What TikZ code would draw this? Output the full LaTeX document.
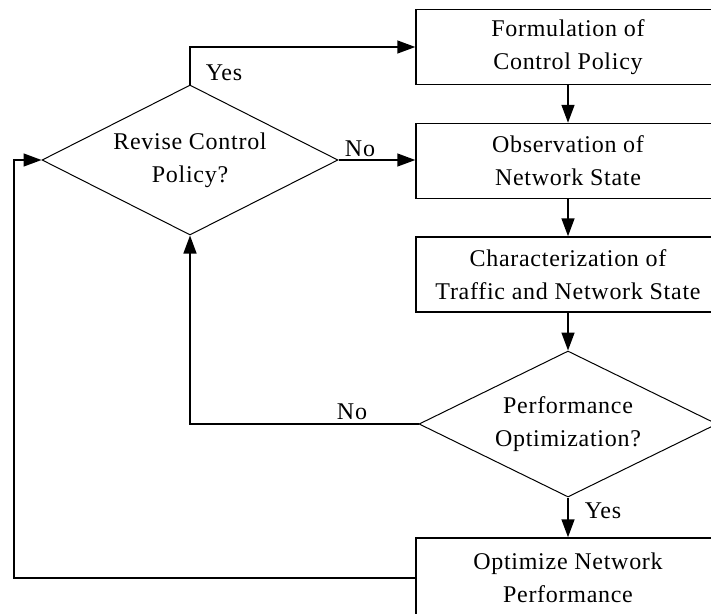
\documentclass[tikz,border=0pt]{standalone}
\usepackage{fontspec}
\setmainfont[LetterSpace=3]{Liberation Serif}
\usetikzlibrary{arrows.meta,shapes.geometric}
\begin{document}
\begin{tikzpicture}[x=1pt,y=-1pt,
  txt/.style={font=\fontsize{24}{33}\selectfont},
  box/.style={txt, draw, line width=1.5pt, minimum width=304pt, minimum height=75pt, inner sep=0pt, align=center},
  dec/.style={txt, draw, line width=1pt, diamond, aspect=2, inner sep=0pt, align=center},
  arr/.style={line width=1.5pt, -{Triangle[length=18pt,width=13pt]}},
  lbl/.style={txt, inner sep=0pt}]
\clip (0,0) rectangle (711,613);
\fill[white] (0,0) rectangle (711,613);
\node[box] (b1) at (568,47) {Formulation of\\Control Policy};
\node[box] (b2) at (568,161) {Observation of\\Network State};
\node[box] (b3) at (568,274.5) {Characterization of\\Traffic and Network State};
\node[box, minimum height=80pt] (b5) at (568,578) {Optimize Network\\Performance};
\node[dec, minimum width=296pt, minimum height=150pt] (d1) at (190,160) {Revise Control\\Policy?};
\node[dec, minimum width=298pt, minimum height=146pt] (d2) at (568,424) {Performance\\Optimization?};
\coordinate (lc) at (14,577);
\draw[arr] (d1.north) |- (b1.west);
\draw[arr] (d1.east) -- (d1.east -| b2.west);
\draw[arr] (b1.south) -- (b2.north);
\draw[arr] (b2.south) -- (b3.north);
\draw[arr] (b3.south) -- (d2.north);
\draw[arr] (d2.south) -- (b5.north);
\draw[arr] (d2.west) -| (d1.south);
\draw[arr] (b5.west) -- (b5.west -| lc) |- (d1.west);
\node[lbl] (y1) at (224,73) {Yes};
\node[lbl] (n1) at (360,149) {No};
\node[lbl] (n2) at (352,412) {No};
\node[lbl] (y2) at (603,511) {Yes};
\end{tikzpicture}
\end{document}
